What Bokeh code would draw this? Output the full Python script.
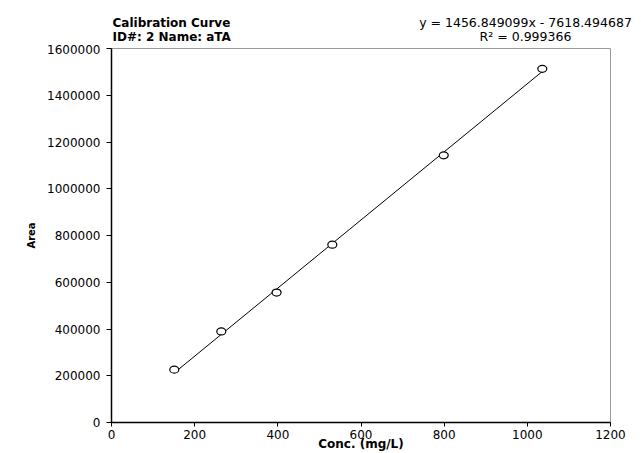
from bokeh.plotting import figure
from bokeh.layouts import column
from bokeh.models import Range1d, FixedTicker, BasicTickFormatter, Label
from bokeh.embed import file_html
from bokeh.resources import INLINE

# Calibration standards: concentration (mg/L) and measured peak area
conc = [151, 264, 397, 531, 799, 1036]
area = [226000, 389500, 556000, 760700, 1143000, 1513000]

# Fitted regression
slope = 1456.849099
intercept = -7618.494687
r_squared = 0.999366

x_ticks = [0, 200, 400, 600, 800, 1000, 1200]
y_ticks = [0, 200000, 400000, 600000, 800000, 1000000, 1200000, 1400000, 1600000]

FONT = "DejaVu Sans"
W = 641
HEAD_H = 44

# ---- header strip: title and regression equation ----
head = figure(width=W, height=HEAD_H, output_backend="svg", toolbar_location=None,
              x_range=Range1d(0, W), y_range=Range1d(HEAD_H, 0),
              x_axis_type=None, y_axis_type=None,
              min_border=0, min_border_left=0, min_border_right=0,
              min_border_top=0, min_border_bottom=0)
head.frame_align = False
head.outline_line_color = None
head.xgrid.visible = False
head.ygrid.visible = False

def head_label(text, x, y, size, bold=False, align="left"):
    head.add_layout(Label(x=x, y=y, text=text, text_font=FONT, text_font_size=size,
                          text_font_style="bold" if bold else "normal",
                          text_align=align, text_baseline="middle", text_color="black"))

head_label("Calibration Curve", 112, 22, "12px", bold=True)
head_label("ID#: 2 Name: aTA", 112, 36, "12px", bold=True)
head_label(f"y = {slope:.6f}x - {abs(intercept):.6f}", 525, 22, "12.5px", align="center")
head_label(f"R\u00b2 = {r_squared:.6f}", 525, 36, "12.5px", align="center")

# ---- main chart ----
p = figure(width=W, height=453 - HEAD_H, output_backend="svg", toolbar_location=None,
           x_range=Range1d(0, 1200), y_range=Range1d(0, 1600000),
           min_border_left=111, min_border_right=31, min_border_top=48 - HEAD_H,
           min_border_bottom=30, title=None)
p.frame_align = False

p.background_fill_color = "white"
p.border_fill_color = "white"
p.outline_line_color = "#9a9a9a"
p.outline_line_width = 1
p.xgrid.visible = False
p.ygrid.visible = False

for ax in (p.xaxis[0], p.yaxis[0]):
    ax.axis_line_color = "black"
    ax.axis_line_width = 1.5
    ax.major_tick_line_color = "black"
    ax.major_tick_out = 4
    ax.major_tick_in = 0
    ax.minor_tick_line_color = None
    ax.major_label_text_font = FONT
    ax.major_label_text_font_size = "12px"
    ax.major_label_text_color = "black"
    ax.axis_label_text_font = FONT
    ax.axis_label_text_font_style = "bold"
    ax.axis_label_text_color = "black"

p.yaxis.major_tick_out = 5
p.xaxis.ticker = FixedTicker(ticks=x_ticks)
p.yaxis.ticker = FixedTicker(ticks=y_ticks)
p.yaxis.formatter = BasicTickFormatter(use_scientific=False)
p.xaxis.major_label_standoff = 3
p.yaxis.major_label_standoff = 6

p.xaxis.axis_label = "Conc. (mg/L)"
p.xaxis.axis_label_text_font_size = "12px"
p.xaxis.axis_label_standoff = -5
p.yaxis.axis_label = "Area"
p.yaxis.axis_label_text_font_size = "10px"
p.yaxis.axis_label_standoff = 7

# Regression line across the calibration span
lx = [min(conc), max(conc)]
ly = [slope * v + intercept for v in lx]
p.line(lx, ly, line_color="black", line_width=1)

# Standards as hollow markers
p.ellipse(conc, area, width=9, height=7, width_units="screen", height_units="screen",
          fill_color="white", line_color="black", line_width=1.2)

layout = column(head, p, spacing=0)
open("out.html", "w").write(file_html(layout, INLINE))
